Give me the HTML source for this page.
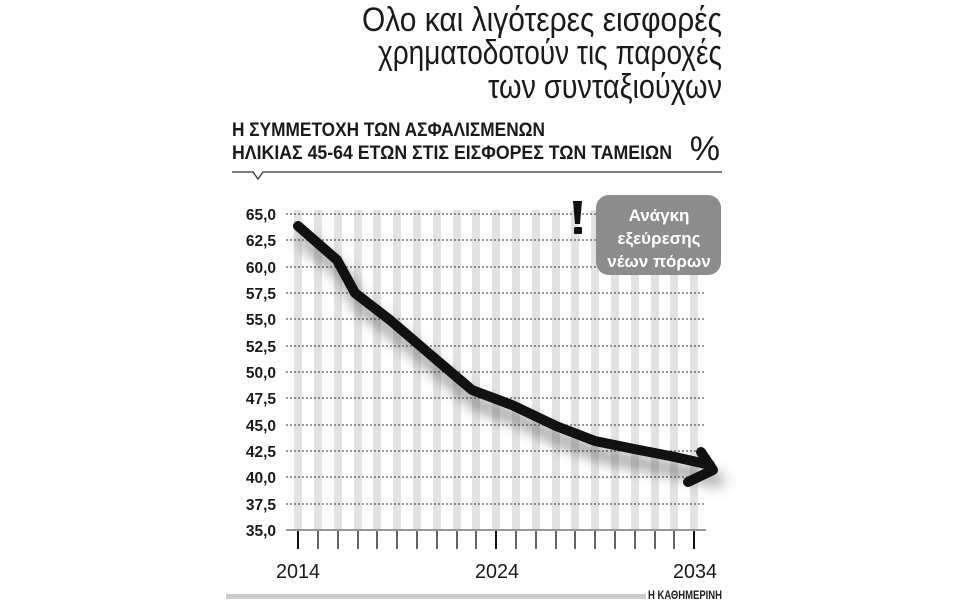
<!DOCTYPE html>
<html><head><meta charset="utf-8"><style>
html,body{margin:0;padding:0;background:#fff;}
svg{display:block;}
</style></head><body>
<svg width="960" height="600" viewBox="0 0 960 600" xmlns="http://www.w3.org/2000/svg">
<defs>
<filter id="blur" x="-20%" y="-20%" width="140%" height="140%"><feGaussianBlur stdDeviation="7"/></filter>
</defs>
<g font-family="'Liberation Sans',sans-serif" fill="#1a1a1a">
<text x="722" y="31" font-size="34" text-anchor="end" textLength="360" lengthAdjust="spacingAndGlyphs">Ολο και λιγότερες εισφορές</text>
<text x="722" y="64" font-size="34" text-anchor="end" textLength="344" lengthAdjust="spacingAndGlyphs">χρηματοδοτούν τις παροχές</text>
<text x="722" y="98" font-size="34" text-anchor="end" textLength="234" lengthAdjust="spacingAndGlyphs">των συνταξιούχων</text>
<text x="232" y="136" font-size="19" font-weight="bold" textLength="313" lengthAdjust="spacingAndGlyphs">Η ΣΥΜΜΕΤΟΧΗ ΤΩΝ ΑΣΦΑΛΙΣΜΕΝΩΝ</text>
<text x="232" y="159" font-size="19" font-weight="bold" textLength="440" lengthAdjust="spacingAndGlyphs">ΗΛΙΚΙΑΣ 45-64 ΕΤΩΝ ΣΤΙΣ ΕΙΣΦΟΡΕΣ ΤΩΝ ΤΑΜΕΙΩΝ</text>
<text x="720" y="160" font-size="34" text-anchor="end">%</text>
</g>
<polyline points="232,172 253,172 258,179 263,172 722,172" fill="none" stroke="#333" stroke-width="1.3"/>
<g fill="#e2e2e2">
<rect x="294" y="210" width="8" height="320"/><rect x="314" y="210" width="8" height="320"/><rect x="334" y="210" width="8" height="320"/><rect x="354" y="210" width="8" height="320"/><rect x="373" y="210" width="8" height="320"/><rect x="393" y="210" width="8" height="320"/><rect x="413" y="210" width="8" height="320"/><rect x="433" y="210" width="8" height="320"/><rect x="453" y="210" width="8" height="320"/><rect x="472" y="210" width="8" height="320"/><rect x="492" y="210" width="8" height="320"/><rect x="512" y="210" width="8" height="320"/><rect x="532" y="210" width="8" height="320"/><rect x="552" y="210" width="8" height="320"/><rect x="571" y="210" width="8" height="320"/><rect x="591" y="210" width="8" height="320"/><rect x="611" y="210" width="8" height="320"/><rect x="631" y="210" width="8" height="320"/><rect x="651" y="210" width="8" height="320"/><rect x="670" y="210" width="8" height="320"/><rect x="690" y="210" width="8" height="320"/>
</g>
<g stroke="#333" stroke-width="1" stroke-dasharray="2,2">
<line x1="286" y1="214" x2="706" y2="214"/><line x1="286" y1="240" x2="706" y2="240"/><line x1="286" y1="267" x2="706" y2="267"/><line x1="286" y1="293" x2="706" y2="293"/><line x1="286" y1="319" x2="706" y2="319"/><line x1="286" y1="346" x2="706" y2="346"/><line x1="286" y1="372" x2="706" y2="372"/><line x1="286" y1="398" x2="706" y2="398"/><line x1="286" y1="425" x2="706" y2="425"/><line x1="286" y1="451" x2="706" y2="451"/><line x1="286" y1="477" x2="706" y2="477"/><line x1="286" y1="504" x2="706" y2="504"/>
</g>
<line x1="286" y1="530" x2="706" y2="530" stroke="#777" stroke-width="1.5"/>
<g font-family="'Liberation Sans',sans-serif" font-weight="bold" font-size="15.5" fill="#1a1a1a" text-anchor="end">
<text x="276" y="220">65,0</text><text x="276" y="246">62,5</text><text x="276" y="273">60,0</text><text x="276" y="299">57,5</text><text x="276" y="325">55,0</text><text x="276" y="352">52,5</text><text x="276" y="378">50,0</text><text x="276" y="404">47,5</text><text x="276" y="431">45,0</text><text x="276" y="457">42,5</text><text x="276" y="483">40,0</text><text x="276" y="510">37,5</text><text x="276" y="536">35,0</text>
</g>
<g stroke="#111" stroke-width="1.3">
<line x1="298" y1="531" x2="298" y2="549" stroke-width="2"/><line x1="318" y1="531" x2="318" y2="549"/><line x1="338" y1="531" x2="338" y2="549"/><line x1="358" y1="531" x2="358" y2="549"/><line x1="377" y1="531" x2="377" y2="549"/><line x1="397" y1="531" x2="397" y2="549"/><line x1="417" y1="531" x2="417" y2="549"/><line x1="437" y1="531" x2="437" y2="549"/><line x1="457" y1="531" x2="457" y2="549"/><line x1="476" y1="531" x2="476" y2="549"/><line x1="496" y1="531" x2="496" y2="549" stroke-width="2"/><line x1="516" y1="531" x2="516" y2="549"/><line x1="536" y1="531" x2="536" y2="549"/><line x1="556" y1="531" x2="556" y2="549"/><line x1="575" y1="531" x2="575" y2="549"/><line x1="595" y1="531" x2="595" y2="549"/><line x1="615" y1="531" x2="615" y2="549"/><line x1="635" y1="531" x2="635" y2="549"/><line x1="655" y1="531" x2="655" y2="549"/><line x1="674" y1="531" x2="674" y2="549"/><line x1="694" y1="531" x2="694" y2="549" stroke-width="2"/>
</g>
<g font-family="'Liberation Sans',sans-serif" font-size="20" fill="#1a1a1a" text-anchor="middle">
<text x="298" y="578" textLength="44" lengthAdjust="spacingAndGlyphs">2014</text><text x="497" y="578" textLength="44" lengthAdjust="spacingAndGlyphs">2024</text><text x="695" y="578" textLength="44" lengthAdjust="spacingAndGlyphs">2034</text>
</g>
<g filter="url(#blur)" opacity="0.55" transform="translate(6,14)">
<polyline points="298,226 337,260 355,293 390,320 432,356 472,390 512,405 556,426 595,441 634,449 675,457 712,466" fill="none" stroke="#444" stroke-width="12" stroke-linecap="round" stroke-linejoin="round"/>
</g>
<polyline points="298,226 337,260 355,293 390,320 432,356 472,390 512,405 556,426 595,441 634,449 675,457 710,465" fill="none" stroke="#111" stroke-width="10" stroke-linecap="round" stroke-linejoin="round"/>
<polyline points="701,452 713,470 688,482" fill="none" stroke="#111" stroke-width="10" stroke-linecap="round" stroke-linejoin="round"/>
<rect x="596" y="195" width="125" height="80" rx="13" fill="#8c8c8c"/>
<g font-family="'Liberation Sans',sans-serif" font-weight="bold" font-size="17" fill="#fff" text-anchor="middle">
<text x="659" y="221">Ανάγκη</text><text x="659" y="244">εξεύρεσης</text><text x="659" y="267">νέων πόρων</text>
</g>
<polygon points="573,201 582,201 580,224 575,224" fill="#111"/>
<rect x="574" y="227" width="8" height="7" rx="1" fill="#111"/>
<rect x="226" y="594" width="420" height="5" fill="#ccc"/>
<text x="722" y="599" font-family="'Liberation Sans',sans-serif" font-weight="bold" font-size="12" fill="#222" text-anchor="end" textLength="74" lengthAdjust="spacingAndGlyphs">Η ΚΑΘΗΜΕΡΙΝΗ</text>
</svg>
</body></html>
